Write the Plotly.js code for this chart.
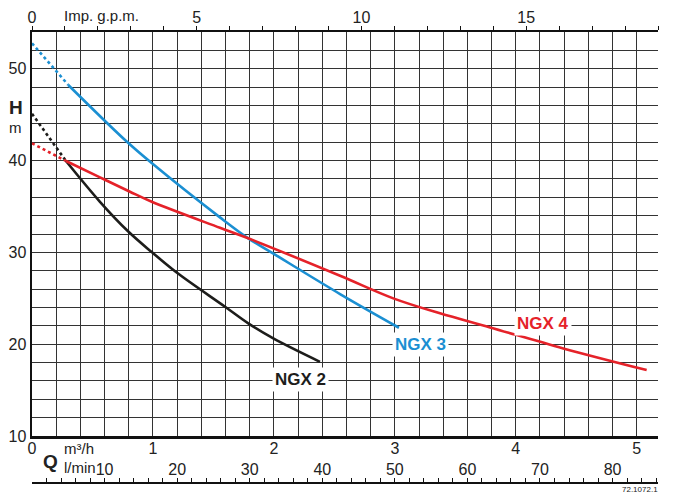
<!DOCTYPE html>
<html>
<head>
<meta charset="utf-8">
<script src="https://cdn.plot.ly/plotly-3.0.1.min.js"></script>
<style>html,body{margin:0;padding:0;background:#fff;}#chart{width:690px;height:495px;}</style>
</head>
<body>
<div id="chart"></div>
<script>
// ---- data (Q in m3/h, H in m) ----
const ngx2DotQ = [0, 0.281];
const ngx2DotH = [45.1, 39.95];
const ngx2Q = [0.281, 0.562, 0.796, 0.990, 1.196, 1.596, 1.788, 1.995, 2.381];
const ngx2H = [39.95, 35.51, 32.27, 30.03, 27.8, 24.08, 22.27, 20.63, 18.08];

const ngx3DotQ = [0, 0.300];
const ngx3DotH = [52.77, 48.23];
const ngx3Q = [0.300, 0.769, 0.992, 1.554, 1.788, 1.996, 2.547, 3.034];
const ngx3H = [48.23, 42.24, 39.70, 33.81, 31.53, 29.86, 25.46, 21.79];

const ngx4DotQ = [0, 0.281];
const ngx4DotH = [41.88, 39.95];
const ngx4Q = [0.281, 0.562, 0.810, 0.990, 1.554, 1.788, 2.547, 2.987, 3.373, 3.787, 4.393, 5.082];
const ngx4H = [39.95, 38.17, 36.60, 35.51, 32.68, 31.53, 27.45, 24.99, 23.36, 21.83, 19.54, 17.18];

const seriesNames = ["NGX 2", "NGX 3", "NGX 4"];
const labelQ = [2.216, 3.208, 4.225];
const labelH = [16.2, 20.0, 22.2];

// axis tick labels
const qTicks = [0, 1, 2, 3, 4, 5];
const hTicks = [10, 20, 30, 40, 50];
const gpmTicks = [0,1,2,3,4,5,6,7,8,9,10,11,12,13,14,15,16,17,18,19];
const gpmLabels = {0:"0", 5:"5", 10:"10", 15:"15"};
const ftTicks = [40,50,60,70,80,90,100,110,120,130,140,150,160,170];
const ftLabels = {50:"50", 100:"100", 120:"ft", 150:"150"};
const lminLabels = {0:"0", 10:"10", 20:"20", 30:"30", 40:"40", 50:"50", 60:"60", 70:"70", 80:"80"};

// ranges / conversions
const qMax = 5.1757;           // = 19 Imp. g.p.m.
const hMin = 10, hMax = 54;
const FT = 0.3048;
const LMIN = 1000 / 60;

const lminTicks = [];
for (let v = 0; v <= 86; v += 2) lminTicks.push(v);

const colors = {k: "#1d1d1b", b: "#1b8fd2", r: "#e52229"};
const FONT = "Liberation Sans Narrow, Liberation Sans, Arial, sans-serif";
const GRID = "#333333";

function tr(x, y, color, dash) {
  return {x: x, y: y, type: "scatter", mode: "lines", xaxis: "x", yaxis: "y",
          line: {color: color, width: 2.6, dash: dash, shape: "spline", smoothing: 1},
          hoverinfo: "skip", showlegend: false};
}

const traces = [
  tr(ngx2DotQ, ngx2DotH, colors.k, "dot"),
  tr(ngx3DotQ, ngx3DotH, colors.b, "dot"),
  tr(ngx4DotQ, ngx4DotH, colors.r, "dot"),
  tr(ngx2Q, ngx2H, colors.k, "solid"),
  tr(ngx3Q, ngx3H, colors.b, "solid"),
  tr(ngx4Q, ngx4H, colors.r, "solid"),
  // invisible copy on the l/min axis so that axis is drawn
  {x: ngx4Q.map(q => q * LMIN), y: ngx4H, type: "scatter", mode: "lines",
   xaxis: "x3", yaxis: "y", line: {width: 0, color: "rgba(0,0,0,0)"},
   opacity: 0, hoverinfo: "skip", showlegend: false}
];

const yBottomPx = 436, plotTop = 32, plotBottom = 482;
const plotH = plotBottom - plotTop;
const yDomLow = (plotBottom - yBottomPx) / plotH;
function py(px) { return (plotBottom - px) / plotH; }

const labelColors = [colors.k, colors.b, colors.r];
const annotations = seriesNames.map((n, i) => ({
  x: labelQ[i], y: labelH[i], xref: "x", yref: "y", text: "<b>" + n + "</b>",
  xanchor: "center", yanchor: "middle",
  showarrow: false, font: {family: FONT, size: 17, color: labelColors[i]},
  bgcolor: "#ffffff", borderpad: 2
}));
function note(x, xref, y, yref, text, size, xanchor) {
  return {x: x, y: y, xref: xref, yref: yref, text: text, showarrow: false,
          xanchor: xanchor || "center", yanchor: "middle",
          font: {family: FONT, size: size, color: "#222"}};
}
annotations.push(
  note(0.92, "x2", py(15), "paper", "Imp. g.p.m.", 15, "left"),
  note(-0.026, "paper", 45.8, "y", "<b>H</b>", 19),
  note(-0.026, "paper", 43.6, "y", "m", 15),
  note(0.389, "x", py(448), "paper", "m³/h", 15),
  note(0.397, "x", py(467), "paper", "l/min", 15),
  note(0.149, "x", py(461), "paper", "<b>Q</b>", 19),
  note(0.971, "paper", py(490), "paper", "72.1072.1", 8)
);

const layout = {
  width: 690, height: 495,
  margin: {l: 32, r: 32, t: plotTop, b: 495 - plotBottom},
  paper_bgcolor: "#ffffff", plot_bgcolor: "#ffffff",
  font: {family: FONT, size: 16, color: "#222"},
  showlegend: false,
  xaxis: {
    range: [0, qMax], anchor: "y", side: "bottom", domain: [0, 1],
    tickvals: qTicks, ticktext: qTicks.map(String), ticks: "",
    ticklabelstandoff: -4,
    showgrid: true, gridcolor: GRID, gridwidth: 1,
    minor: {dtick: 0.2, tick0: 0, showgrid: true, gridcolor: GRID, gridwidth: 1, ticks: ""},
    showline: true, linecolor: "#111", linewidth: 2.5, zeroline: false,
    tickfont: {family: FONT, size: 16, color: "#222"}, fixedrange: true
  },
  yaxis: {
    range: [hMin, hMax], domain: [yDomLow, 1], anchor: "x",
    tickvals: hTicks, ticktext: hTicks.map(String), ticks: "",
    showgrid: true, gridcolor: GRID, gridwidth: 1,
    minor: {dtick: 2, tick0: 0, showgrid: true, gridcolor: GRID, gridwidth: 1, ticks: ""},
    showline: true, linecolor: "#111", linewidth: 2.5, zeroline: false,
    tickfont: {family: FONT, size: 16, color: "#222"}, fixedrange: true
  },
  xaxis2: {
    range: [0, 19], overlaying: "x", side: "top", anchor: "y",
    tickvals: gpmTicks, ticktext: gpmTicks.map(v => gpmLabels[v] || ""),
    ticks: "outside", ticklen: 4, tickcolor: "#111", tickwidth: 1,
    ticklabelstandoff: -3,
    showgrid: false, showline: true, linecolor: "#111", linewidth: 2, zeroline: false,
    tickfont: {family: FONT, size: 16, color: "#222"}, fixedrange: true
  },
  yaxis2: {
    range: [hMin / FT, hMax / FT], overlaying: "y", side: "right", anchor: "x",
    tickvals: ftTicks, ticktext: ftTicks.map(v => ftLabels[v] || ""),
    ticks: "outside", ticklen: 4, tickcolor: "#111", tickwidth: 1,
    showgrid: false, showline: true, linecolor: "#111", linewidth: 2, zeroline: false,
    tickfont: {family: FONT, size: 16, color: "#222"}, fixedrange: true
  },
  xaxis3: {
    range: [0, qMax * LMIN], overlaying: "x", anchor: "free", position: 0, side: "bottom",
    tickvals: lminTicks, ticktext: lminTicks.map(v => lminLabels[v] || ""),
    ticks: "inside", ticklen: 4, tickcolor: "#111", tickwidth: 1,
    ticklabelposition: "inside",
    showgrid: false, showline: true, linecolor: "#111", linewidth: 1.5, zeroline: false,
    tickfont: {family: FONT, size: 16, color: "#222"}, fixedrange: true
  },
  annotations: annotations
};

Plotly.newPlot("chart", traces, layout, {staticPlot: true, displayModeBar: false});
</script>
</body>
</html>
